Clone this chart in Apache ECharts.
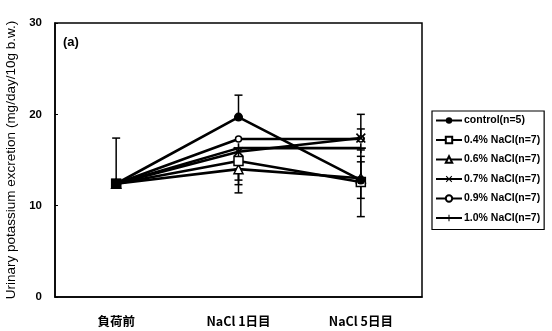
<!DOCTYPE html>
<html><head><meta charset="utf-8">
<script src="https://cdn.jsdelivr.net/npm/echarts@6/dist/echarts.min.js"></script>
<style>html,body{margin:0;padding:0;background:#fff}#c{width:552px;height:331px}</style>
</head><body><div id="c"></div>
<script>
const categories = ['負荷前', 'NaCl 1日目', 'NaCl 5日目'];
const seriesNames = ['control(n=5)', '0.4% NaCl(n=7)', '0.6% NaCl(n=7)', '0.7% NaCl(n=7)', '0.9% NaCl(n=7)', '1.0% NaCl(n=7)'];
const control = [12.4, 19.7, 12.8];
const nacl04 = [12.4, 14.9, 12.6];
const nacl06 = [12.4, 14.0, 13.0];
const nacl07 = [12.4, 15.9, 17.4];
const nacl09 = [12.4, 17.3, 17.3];
const nacl10 = [12.4, 16.3, 16.3];
// error bar ends [low, high] per category (null = not shown)
const errControl = [[12.4, 17.4], [19.7, 22.1], [8.8, 16.1]];
const err04 = [null, [12.3, 14.9], [10.8, 15.4]];
const err06 = [null, [11.4, 14.0], [13.0, 14.8]];
const err07 = [null, null, [17.4, 20.0]];
const err09 = [null, null, [17.3, 18.4]];
const err10 = [null, [12.8, 16.3], null];
const yTicks = [0, 10, 20, 30];

const values = [control, nacl04, nacl06, nacl07, nacl09, nacl10];
const errs = [errControl, err04, err06, err07, err09, err10];
const crossPath = 'path://M0,1.2 L1.2,0 L5,3.8 L8.8,0 L10,1.2 L6.2,5 L10,8.8 L8.8,10 L5,6.2 L1.2,10 L0,8.8 L3.8,5 Z';
const plusPath = 'path://M4.2,0 L5.8,0 L5.8,4.2 L10,4.2 L10,5.8 L5.8,5.8 L5.8,10 L4.2,10 L4.2,5.8 L0,5.8 L0,4.2 L4.2,4.2 Z';
const markers = [
  {symbol: 'circle', size: 9, color: '#000'},
  {symbol: 'rect', size: 9, color: '#fff'},
  {symbol: 'triangle', size: 9, color: '#fff'},
  {symbol: crossPath, size: 10, color: '#000'},
  {symbol: 'circle', size: 6, color: '#fff'},
  {symbol: plusPath, size: 10, color: '#000'}
];

const errData = [];
errs.forEach(e => e.forEach((v, i) => { if (v) errData.push([i, v[0], v[1]]); }));

const series = values.map((vals, k) => ({
  name: seriesNames[k],
  type: 'line',
  data: vals.map((v, i) => (k === 0 && i === 0) ? {value: v, symbol: 'rect', symbolSize: 10, itemStyle: {color: '#000'}} : v),
  symbol: markers[k].symbol,
  symbolSize: markers[k].size,
  showAllSymbol: true,
  lineStyle: {color: '#000', width: 2.6},
  itemStyle: {color: markers[k].color, borderColor: '#000', borderWidth: markers[k].color === '#fff' ? 1.5 : 0},
  z: 3 + (5 - k),
  animation: false
}));

series.push({
  type: 'custom',
  name: 'err',
  data: errData,
  z: 2,
  animation: false,
  renderItem: function (params, api) {
    const x = api.coord([api.value(0), 0])[0];
    const lo = api.coord([api.value(0), api.value(1)])[1];
    const hi = api.coord([api.value(0), api.value(2)])[1];
    const w = 4;
    const st = {stroke: '#000', lineWidth: 1.5};
    return {type: 'group', children: [
      {type: 'line', shape: {x1: x, y1: lo, x2: x, y2: hi}, style: st},
      {type: 'line', shape: {x1: x - w, y1: lo, x2: x + w, y2: lo}, style: st},
      {type: 'line', shape: {x1: x - w, y1: hi, x2: x + w, y2: hi}, style: st}
    ]};
  },
  encode: {x: 0, y: [1, 2]}
});

const chart = echarts.init(document.getElementById('c'), null, {renderer: 'canvas'});
chart.setOption({
  animation: false,
  backgroundColor: '#fff',
  grid: {left: 55, top: 23, right: 130, bottom: 34, show: true, borderColor: '#000', borderWidth: 1.5, containLabel: false, outerBoundsMode: 'none'},
  legend: {
    data: seriesNames,
    orient: 'vertical',
    left: 432, top: 111,
    itemWidth: 26, itemHeight: 8, itemGap: 8.5,
    padding: [4, 4, 6, 3],
    borderColor: '#000', borderWidth: 1.2,
    textStyle: {fontFamily: 'Liberation Sans, Arial', fontWeight: 'bold', fontSize: 10.5, color: '#000', padding: [0, 0, 0, -3]}
  },
  graphic: [{type: 'text', left: 63, top: 36, style: {text: '(a)', fontFamily: 'Liberation Sans, Arial', fontSize: 13, fontWeight: 'bold', fill: '#000'}}],
  xAxis: {
    type: 'category', data: categories, boundaryGap: true,
    axisLine: {lineStyle: {color: '#000', width: 1.5}},
    axisTick: {inside: true, length: 4, lineStyle: {color: '#000'}},
    axisLabel: {margin: 18, fontFamily: 'Noto Sans CJK JP', fontWeight: 'bold', fontSize: 12.5, color: '#000'}
  },
  yAxis: {
    type: 'value', min: yTicks[0], max: yTicks[yTicks.length - 1], interval: 10,
    name: 'Urinary potassium excretion (mg/day/10g b.w.)', nameLocation: 'middle', nameGap: 34,
    nameTextStyle: {fontFamily: 'Liberation Sans, Arial', fontSize: 13.5, color: '#000'},
    splitLine: {show: false},
    axisLine: {show: true, lineStyle: {color: '#000', width: 1.5}},
    axisTick: {show: true, inside: true, length: 3, lineStyle: {color: '#000'}},
    axisLabel: {margin: 13, fontFamily: 'Liberation Sans, Arial', fontWeight: 'bold', fontSize: 11.5, color: '#000'}
  },
  series: series
});
</script>
</body></html>
